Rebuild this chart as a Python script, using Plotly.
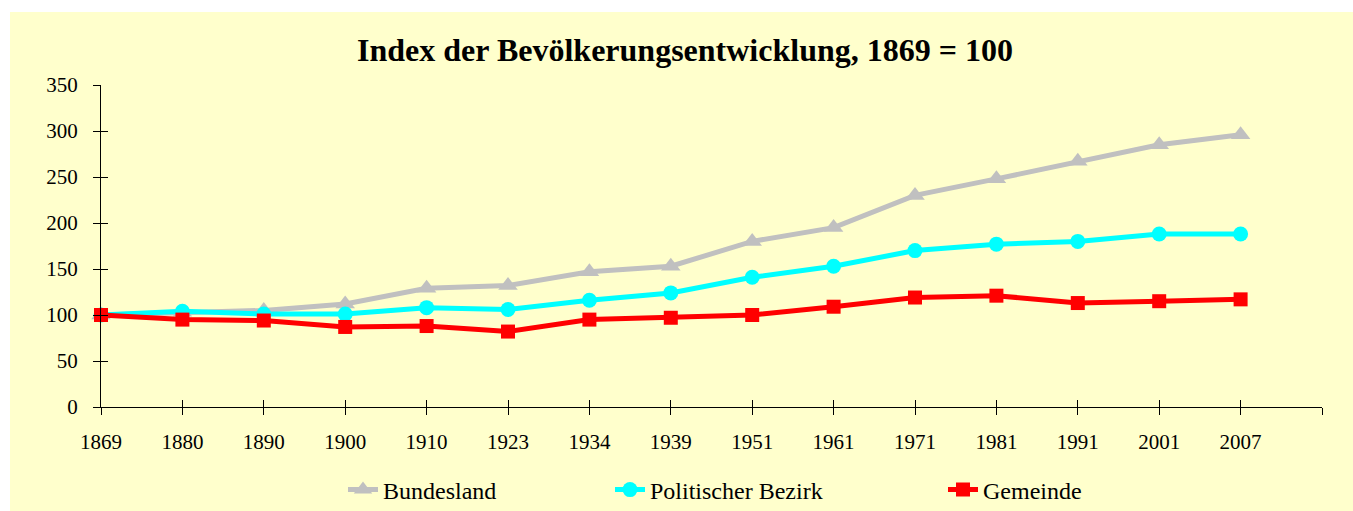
import plotly.graph_objects as go

years = ["1869", "1880", "1890", "1900", "1910", "1923", "1934", "1939",
         "1951", "1961", "1971", "1981", "1991", "2001", "2007"]
bundesland = [100, 103, 105, 112, 129, 132, 147, 153, 180, 195, 230, 248, 267, 285, 296]
bezirk = [100, 104, 101, 101, 108, 106, 116, 124, 141, 153, 170, 177, 180, 188, 188]
gemeinde = [100, 95, 94, 87, 88, 82, 95, 97, 100, 109, 119, 121, 113, 115, 117]
y_ticks = [0, 50, 100, 150, 200, 250, 300, 350]

FONT = "Liberation Serif, Times New Roman, serif"
W, H = 1353, 511
L, R, T, B = 101, 31, 85, 104
pw = W - L - R
ph = H - T - B

xs = list(range(len(years)))

fig = go.Figure()
series = [
    ("Bundesland", bundesland, "#C0C0C0", "triangle-up", 17, "legend"),
    ("Politischer Bezirk", bezirk, "#00FFFF", "circle", 15, "legend2"),
    ("Gemeinde", gemeinde, "#FF0000", "square", 14, "legend3"),
]
for name, vals, col, sym, ms, lg in series:
    fig.add_trace(go.Scatter(
        x=xs, y=vals, name=name, mode="lines+markers",
        line=dict(color=col, width=5),
        marker=dict(color=col, symbol=sym, size=ms),
        legend=lg, cliponaxis=False,
    ))

def px_x(p):
    return (p - L) / pw

def px_y(p):
    return (H - B - p) / ph

fig.add_shape(type="rect", xref="paper", yref="paper",
              x0=px_x(10), x1=px_x(W + 5), y0=px_y(H + 5), y1=px_y(12),
              fillcolor="#FFFFCC", line=dict(width=0), layer="below")

tickvals_x = list(range(len(years) + 1))
ticktext_x = years + [""]

legend_common = dict(orientation="h", xref="container", yref="container",
                     yanchor="middle", y=1 - 490 / H,
                     xanchor="left", bgcolor="rgba(0,0,0,0)",
                     font=dict(family=FONT, size=24, color="black"))

fig.update_layout(
    width=W, height=H,
    margin=dict(l=L, r=R, t=T, b=B, autoexpand=False),
    paper_bgcolor="white",
    plot_bgcolor="rgba(0,0,0,0)",
    title=dict(text="<b>Index der Bevölkerungsentwicklung, 1869 = 100</b>",
               x=685 / W, xanchor="center", y=1 - 50 / H, yanchor="middle",
               font=dict(family=FONT, size=32, color="black")),
    xaxis=dict(range=[0, 15], tickmode="array", tickvals=tickvals_x, ticktext=ticktext_x,
               showgrid=False, zeroline=False, showline=True, linecolor="black", linewidth=1,
               ticks="outside", ticklen=7, tickcolor="black", tickwidth=1,
               ticklabelstandoff=9,
               tickfont=dict(family=FONT, size=21, color="black")),
    xaxis2=dict(range=[0, 15], overlaying="x", tickmode="array", tickvals=tickvals_x,
                showticklabels=False, showgrid=False, zeroline=False, showline=False,
                ticks="inside", ticklen=7, tickcolor="black", tickwidth=1),
    yaxis=dict(range=[0, 350], tickmode="array", tickvals=y_ticks,
               showgrid=False, zeroline=False, showline=True, linecolor="black", linewidth=1,
               ticks="outside", ticklen=7, tickcolor="black", tickwidth=1,
               ticklabelstandoff=11,
               tickfont=dict(family=FONT, size=21, color="black")),
    yaxis2=dict(range=[0, 350], overlaying="y", tickmode="array", tickvals=y_ticks,
                showticklabels=False, showgrid=False, zeroline=False, showline=False,
                ticks="inside", ticklen=7, tickcolor="black", tickwidth=1),
    legend=dict(x=343 / W, **legend_common),
    legend2=dict(x=610 / W, **legend_common),
    legend3=dict(x=943 / W, **legend_common),
)

# invisible trace to activate the overlaid axes that draw the inner tick halves
fig.add_trace(go.Scatter(x=[0], y=[0], xaxis="x2", yaxis="y2", mode="markers",
                         marker=dict(opacity=0), showlegend=False, hoverinfo="skip"))

fig.write_html("out.html", config={"displayModeBar": False},
               post_script="document.body.style.margin='0';document.body.style.overflow='hidden';")
